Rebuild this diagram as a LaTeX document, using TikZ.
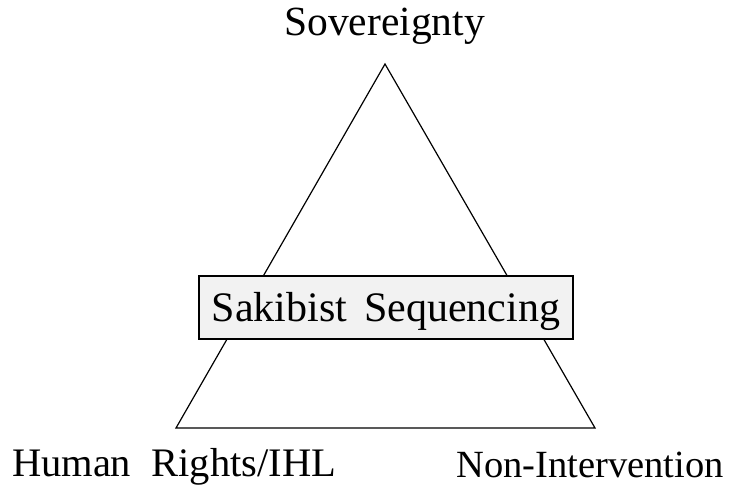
\documentclass[tikz,border=0pt]{standalone}
\usepackage{fontspec}
\setmainfont{Liberation Serif}
\definecolor{boxfill}{HTML}{F2F2F2}
\tikzset{
  lbl/.style={anchor=base, inner sep=0pt, font=\fontsize{40}{48}\selectfont},
  edge/.style={draw=black, line width=1.2pt, line join=miter},
  seqbox/.style={draw=black, line width=1.2pt, fill=boxfill, minimum width=374pt, minimum height=63pt, inner sep=0pt}
}
\begin{document}
\begin{tikzpicture}[x=1pt,y=-1pt]
\useasboundingbox (0,0) rectangle (739,488);
\coordinate (apex) at (385,64);
\coordinate (bl) at (176,428);
\coordinate (br) at (595,428);
\draw[edge] (apex) -- (bl) -- (br) -- cycle;
\node[seqbox] (box) at (386,307.5) {};
\node[lbl, font=\fontsize{42}{50}\selectfont] (seq) at (386,321) {Sakibist\hspace{0.4em}Sequencing};
\node[lbl, font=\fontsize{41.5}{50}\selectfont] (sov) at (384.5,35) {Sovereignty};
\node[lbl, font=\fontsize{40.5}{48}\selectfont] (hr) at (174,476) {Human\ \ Rights/IHL};
\node[lbl, font=\fontsize{38.5}{46}\selectfont] (ni) at (590,477) {Non-Intervention};
\end{tikzpicture}
\end{document}
